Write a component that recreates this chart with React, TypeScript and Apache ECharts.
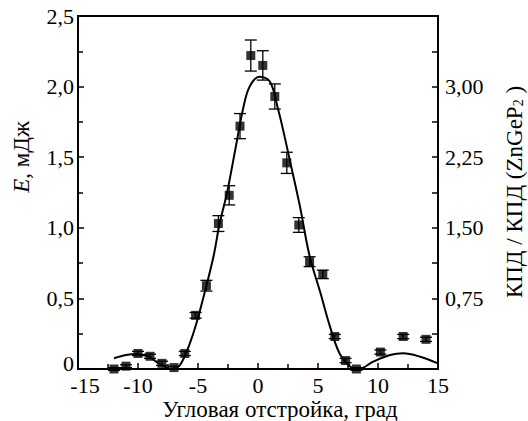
import React, { useEffect, useRef } from "react";
import * as echarts from "echarts";

// Smooth theoretical curve
const curveX = [-12, -11, -10.1, -9.1, -8.2, -7.1, -6.4, -5.4, -4.6, -3.7, -3.2, -2.6, -1.9, -1.2, -0.7, 0.1, 1.0, 1.7, 2.1, 2.7, 3.5, 4.3, 5.2, 6.0, 6.8, 7.7, 8.4, 9.6, 11.0, 12.1, 13.5, 15];
const curveY = [0.076, 0.099, 0.106, 0.087, 0.035, 0, 0.04, 0.25, 0.49, 0.8, 1.03, 1.24, 1.55, 1.86, 2.0, 2.07, 2.035, 1.83, 1.69, 1.46, 1.15, 0.8, 0.54, 0.3, 0.11, 0.016, 0, 0.052, 0.099, 0.111, 0.087, 0.04];

// Measured points with error bars
const pointX = [-12, -11, -10, -9, -8, -7, -6.1, -5.2, -4.3, -3.3, -2.4, -1.5, -0.6, 0.4, 1.4, 2.4, 3.4, 4.3, 5.4, 6.4, 7.3, 8.2, 10.2, 12.1, 14];
const pointY = [0, 0.02, 0.11, 0.09, 0.04, 0.01, 0.11, 0.38, 0.59, 1.03, 1.23, 1.72, 2.22, 2.15, 1.93, 1.46, 1.02, 0.76, 0.67, 0.23, 0.06, 0, 0.12, 0.23, 0.21];
const pointErr = [0.01, 0.01, 0.015, 0.015, 0.015, 0.01, 0.015, 0.02, 0.038, 0.056, 0.068, 0.089, 0.11, 0.104, 0.089, 0.075, 0.052, 0.035, 0.03, 0.015, 0.015, 0.01, 0.015, 0.015, 0.015];

const xTicks = [-15, -10, -5, 0, 5, 10, 15];
const leftTicks = [0, 0.5, 1.0, 1.5, 2.0, 2.5];
const rightTickLabels = [0.75, 1.5, 2.25, 3.0];

const xTitle = "Угловая отстройка, град";
const leftTitle = "{i|E}, мДж";
const rightTitle = "КПД / КПД (ZnGeP{sub|2} )";

const FONT = "'Liberation Serif', 'Times New Roman', serif";
const FS = 22;
const TFS = 23;

export default function App() {
  const ref = useRef<HTMLDivElement>(null);
  useEffect(() => {
    if (!ref.current) return;
    const chart = echarts.init(ref.current, undefined, { renderer: "svg" });
    const axisLine = { show: true, onZero: false, lineStyle: { color: "#000", width: 2 } };
    const tick = { show: true, inside: true, length: 6, lineStyle: { color: "#000", width: 1.5 } };
    const minor = { show: true, splitNumber: 2, length: 5, lineStyle: { color: "#000", width: 1.5 } };
    const option: any = {
      animation: false,
      backgroundColor: "#fff",
      grid: { left: 78, right: 90, top: 16, bottom: 52, show: true, borderColor: "#000", borderWidth: 2, backgroundColor: "transparent" },
      xAxis: {
        type: "value",
        min: -15,
        max: 15,
        interval: 5,
        axisLine,
        axisTick: tick,
        minorTick: minor,
        splitLine: { show: false },
        axisLabel: {
          color: "#000",
          fontFamily: FONT,
          fontSize: FS,
          lineHeight: 14,
          margin: 9,
          formatter: (v: number) => {
            if (!xTicks.includes(v)) return "";
            return v === -15 ? "{m|" + v + "}" : String(v);
          },
          rich: { m: { fontFamily: FONT, fontSize: FS, color: "#000", padding: [0, 0, 0, 14] } },
        },
      },
      yAxis: [
        {
          type: "value",
          min: 0,
          max: 2.5,
          interval: 0.5,
          axisLine,
          axisTick: tick,
          minorTick: minor,
          splitLine: { show: false },
          axisLabel: {
            color: "#000",
            fontFamily: FONT,
            fontSize: FS,
            lineHeight: 14,
            margin: 4,
            formatter: (v: number) => {
              const t = leftTicks.find((k) => Math.abs(k - v) < 1e-6);
              if (t === undefined) return "";
              return t === 0 ? "{z|0}" : t.toFixed(1).replace(".", ",");
            },
            rich: { z: { fontFamily: FONT, fontSize: FS, color: "#000", padding: [0, 0, 12, 0] } },
          },
        },
        {
          type: "value",
          position: "right",
          min: 0,
          max: 3.75,
          interval: 0.75,
          axisLine,
          axisTick: tick,
          minorTick: { ...minor, length: 6 },
          splitLine: { show: false },
          axisLabel: {
            color: "#000",
            fontFamily: FONT,
            fontSize: FS,
            lineHeight: 14,
            margin: 7,
            padding: [8, 0, 0, 0],
            formatter: (v: number) => {
              const t = rightTickLabels.find((k) => Math.abs(k - v) < 1e-6);
              return t === undefined ? "" : t.toFixed(2).replace(".", ",");
            },
          },
        },
      ],
      graphic: [
        {
          type: "text",
          x: 280,
          y: 409,
          style: {
            text: xTitle,
            fill: "#000",
            fontFamily: FONT,
            fontSize: TFS,
            align: "center",
            verticalAlign: "middle",
          },
        },
        {
          type: "text",
          x: 21,
          y: 157,
          rotation: Math.PI / 2,
          style: {
            text: leftTitle,
            fill: "#000",
            fontFamily: FONT,
            fontSize: TFS,
            align: "center",
            verticalAlign: "middle",
            rich: { i: { fontStyle: "italic", fontFamily: FONT, fontSize: TFS, fill: "#000" } },
          },
        },
        {
          type: "text",
          x: 514,
          y: 192,
          rotation: Math.PI / 2,
          style: {
            text: rightTitle,
            fill: "#000",
            fontFamily: FONT,
            fontSize: TFS,
            align: "center",
            verticalAlign: "middle",
            rich: { sub: { fontFamily: FONT, fontSize: 14, fill: "#000", verticalAlign: "bottom", padding: [7, 0, 0, 0] } },
          },
        },
      ],
      series: [
        {
          type: "line",
          data: curveX.map((x, i) => [x, curveY[i]]),
          smooth: 0.35,
          showSymbol: false,
          symbol: "none",
          lineStyle: { color: "#000", width: 2 },
          z: 2,
        },
        {
          type: "custom",
          data: pointX.map((x, i) => [x, pointY[i] - pointErr[i], pointY[i] + pointErr[i]]),
          renderItem: (params: any, api: any) => {
            const x = api.value(0);
            const lo = api.coord([x, api.value(1)]);
            const hi = api.coord([x, api.value(2)]);
            const hw = 6;
            const st = { stroke: "#000", lineWidth: 1.3 };
            return {
              type: "group",
              children: [
                { type: "line", shape: { x1: lo[0], y1: lo[1], x2: hi[0], y2: hi[1] }, style: st },
                { type: "line", shape: { x1: lo[0] - hw, y1: lo[1], x2: lo[0] + hw, y2: lo[1] }, style: st },
                { type: "line", shape: { x1: hi[0] - hw, y1: hi[1], x2: hi[0] + hw, y2: hi[1] }, style: st },
              ],
            };
          },
          z: 3,
        },
        {
          type: "scatter",
          data: pointX.map((x, i) => [x, pointY[i]]),
          symbol: "rect",
          symbolSize: 9,
          itemStyle: { color: "#000" },
          z: 4,
        },
      ],
    };
    chart.setOption(option);
    return () => chart.dispose();
  }, []);
  return (
    <div
      ref={ref}
      style={{ position: "fixed", left: 0, top: 0, width: 528, height: 421, background: "#fff" }}
    />
  );
}
